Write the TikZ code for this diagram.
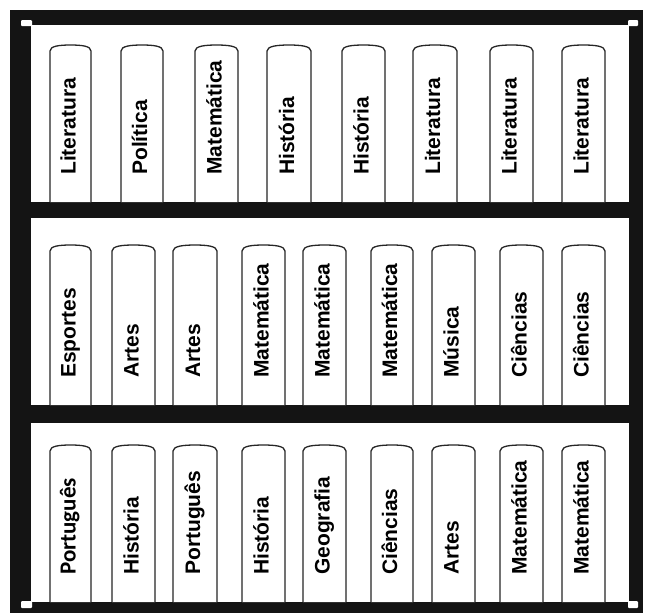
\documentclass[tikz,border=0pt]{standalone}
\usepackage{fontspec}
\setmainfont{Liberation Sans}
\newfontfamily\calib{Carlito}
% #1 left x, #2 right x, #3 top y, #4 bottom y, #5 text start y, #6 label, #7 node name
\newcommand\shelfbook[7]{%
  \draw[bookline] (#1,#4) -- (#1,#3+6)
     .. controls +(0,-5) and +(-11,0) .. ({(#1+#2)/2},#3)
     .. controls +(11,0) and +(0,-5) .. (#2,#3+6) -- (#2,#4);
  \node[spine] (#7) at ({(#1+#2)/2+5},#5) {#6};
}
\begin{document}
\begin{tikzpicture}[x=1pt,y=-1pt,
  bookline/.style={draw=black!85,line width=1.3pt,fill=white},
  spine/.style={rotate=90,anchor=base west,inner sep=0pt,
    font=\fontsize{21}{21}\selectfont\bfseries},
  frame/.style={fill=black!92},
  hole/.style={fill=white}]
\useasboundingbox (0,0) rectangle (645,614);
\fill[frame] (10,10) rectangle (643,613);
\fill[hole] (31,25) rectangle (629,202);
\fill[hole] (31,218) rectangle (629,405);
\fill[hole] (31,423) rectangle (629,602);
\fill[hole,rounded corners=1pt] (21,20) rectangle (32,26);
\fill[hole,rounded corners=1pt] (628,20) rectangle (638,26);
\fill[hole,rounded corners=1pt] (21,601) rectangle (32,608);
\fill[hole,rounded corners=1pt] (628,601) rectangle (638,608);
% top shelf
\foreach \a/\b/\t [count=\i] in {50/91/Literatura,121/163/Política,195/238/Matemática,267/311/História,342/385/História,413/457/Literatura,490/533/Literatura,562/605/Literatura}
  {\shelfbook{\a}{\b}{45}{202}{175}{\t}{sA\i}}
% middle shelf
\foreach \a/\b/\t [count=\i] in {50/91/Esportes,112/155/Artes,173/217/Artes,242/285/Matemática,303/346/Matemática,371/413/Matemática,432/475/Música,500/543/Ciências,562/605/Ciências}
  {\shelfbook{\a}{\b}{245}{405}{378}{\t}{sB\i}}
% bottom shelf
\foreach \a/\b/\t [count=\i] in {50/91/{\calib\fontsize{23}{23}\selectfont Português},112/155/História,173/217/Português,242/285/História,303/346/Geografia,371/413/Ciências,432/475/Artes,500/543/Matemática,562/605/Matemática}
  {\shelfbook{\a}{\b}{445}{602}{575}{\t}{sC\i}}
\end{tikzpicture}
\end{document}
